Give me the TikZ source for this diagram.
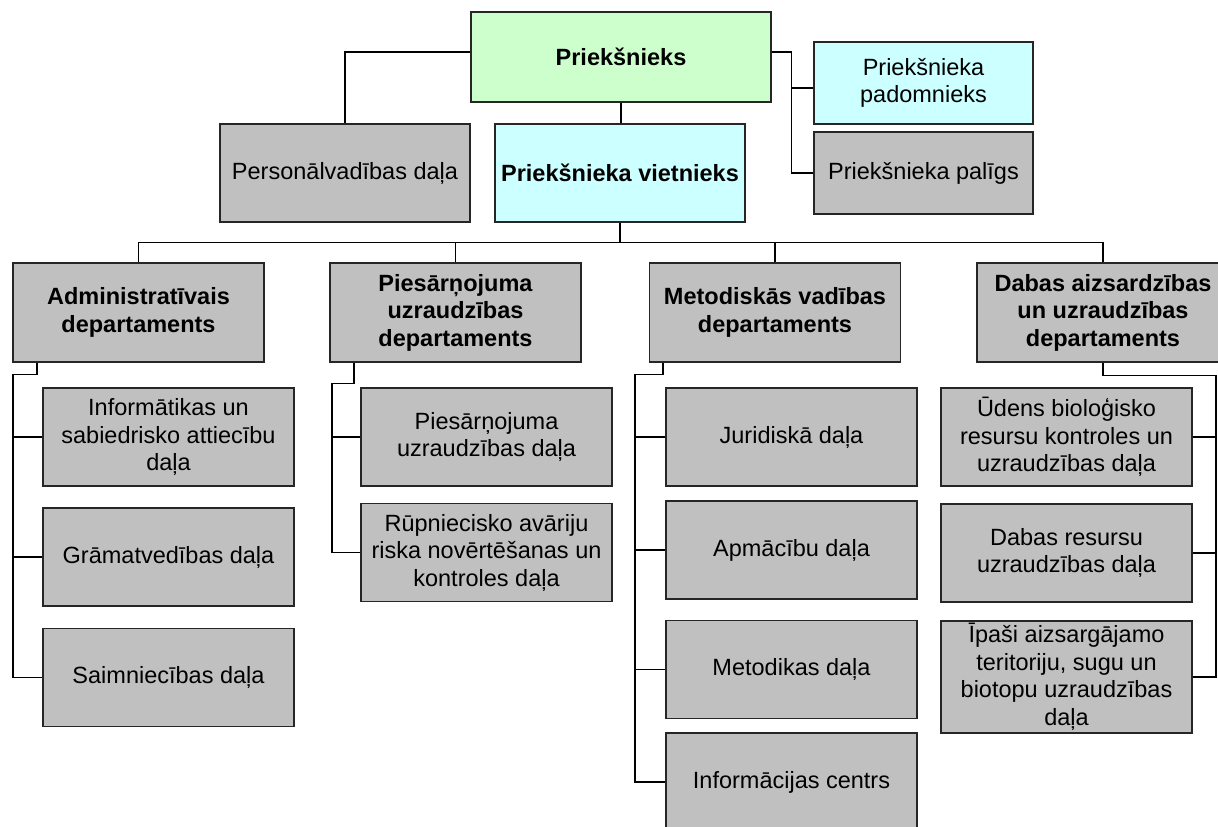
\documentclass[tikz,border=0pt]{standalone}
\usepackage{fontspec}
\setmainfont{Liberation Sans}
\definecolor{boxgray}{HTML}{C0C0C0}
\definecolor{boxgreen}{HTML}{CCFFCC}
\definecolor{boxcyan}{HTML}{CCFFFF}
\tikzset{
  unit/.style={draw=black!85, line width=1.3pt, fill=boxgray, minimum width=251pt,
    minimum height=98pt, align=center, inner sep=2pt,
    font=\fontsize{23.5}{27.5}\selectfont},
  boldunit/.style={unit, font=\fontsize{23.5}{27.5}\selectfont\bfseries},
  conn/.style={draw=black, line width=1.3pt}
}
\begin{document}
\begin{tikzpicture}[x=1pt,y=-1pt]
\useasboundingbox (0,0) rectangle (1218,827);
% top level
\node[boldunit, fill=boxgreen, minimum width=300pt, minimum height=90pt] (boss) at (621,57) {Priekšnieks};
\node[unit, minimum width=250pt] (pers) at (345,173) {Personālvadības daļa};
\node[boldunit, fill=boxcyan, minimum width=250pt] (viet) at (620,173) {Priekšnieka vietnieks};
\node[unit, fill=boxcyan, minimum width=219pt, minimum height=82pt] (pad) at (923.5,83) {Priekšnieka\\padomnieks};
\node[unit, minimum width=219pt, minimum height=82pt] (pal) at (923.5,173) {Priekšnieka palīgs};
% departments
\node[boldunit, minimum height=99pt] (admin) at (138.5,312.5) {Administratīvais\\departaments};
\node[boldunit, minimum height=99pt] (piesarn) at (455.5,312.5) {Piesārņojuma\\uzraudzības\\departaments};
\node[boldunit, minimum height=99pt] (metod) at (775,312.5) {Metodiskās vadības\\departaments};
\node[boldunit, minimum height=99pt, minimum width=252pt] (dabas) at (1103,312.5) {Dabas aizsardzības\\un uzraudzības\\departaments};
% admin children
\node[unit] (inf) at (168.5,437) {Informātikas un\\sabiedrisko attiecību\\daļa};
\node[unit] (gram) at (168.5,557) {Grāmatvedības daļa};
\node[unit] (saim) at (168.5,677.5) {Saimniecības daļa};
% piesarnojuma children
\node[unit] (pud) at (486.5,437) {Piesārņojuma\\uzraudzības daļa};
\node[unit] (rup) at (486.5,552.5) {Rūpniecisko avāriju\\riska novērtēšanas un\\kontroles daļa};
% metod children
\node[unit] (jur) at (791.5,437) {Juridiskā daļa};
\node[unit] (apm) at (791.5,550) {Apmācību daļa};
\node[unit] (metk) at (791.5,669.5) {Metodikas daļa};
\node[unit] (infc) at (791.5,782) {Informācijas centrs};
% dabas children
\node[unit] (ud) at (1066.5,437) {Ūdens bioloģisko\\resursu kontroles un\\uzraudzības daļa};
\node[unit] (dr) at (1066.5,553) {Dabas resursu\\uzraudzības daļa};
\node[unit, minimum height=112pt] (ipasi) at (1066.5,677) {Īpaši aizsargājamo\\teritoriju, sugu un\\biotopu uzraudzības\\daļa};
% connectors top
\draw[conn] ([yshift=5pt]boss.west) -| (pers.north);
\draw[conn] (boss.south) -- (boss.south |- viet.north);
\draw[conn] ([yshift=5pt]boss.east) -- ++(20,0) coordinate (rb) |- (pal.west);
\coordinate (padc) at ([yshift=-5pt]pad.west);
\draw[conn] (rb |- padc) -- (padc);
% bus
\draw[conn] (viet.south) -- ++(0,20) coordinate (bus);
\draw[conn] (admin.north) |- (bus) -| (dabas.north);
\draw[conn] (piesarn.north) -- (piesarn.north |- bus);
\draw[conn] (metod.north) -- (metod.north |- bus);
% admin
\draw[conn] ([xshift=-101.5pt]admin.south) -- ++(0,12) -- ++(-24,0) coordinate (av) |- (saim.west);
\draw[conn] (av |- inf.west) -- (inf.west);
\draw[conn] (av |- gram.west) -- (gram.west);
% piesarn
\draw[conn] ([xshift=-101.5pt]piesarn.south) -- ++(0,21) -- ++(-22,0) coordinate (pv) |- (rup.west);
\draw[conn] (pv |- pud.west) -- (pud.west);
% metod
\draw[conn] ([xshift=-112pt]metod.south) -- ++(0,12) -- ++(-28,0) coordinate (mv) |- (infc.west);
\draw[conn] (mv |- jur.west) -- (jur.west);
\draw[conn] (mv |- apm.west) -- (apm.west);
\draw[conn] (mv |- metk.west) -- (metk.west);
% dabas
\draw[conn] (dabas.south) -- ++(0,13) -- ++(113,0) coordinate (dv) |- (ipasi.east);
\draw[conn] (dv |- ud.east) -- (ud.east);
\draw[conn] (dv |- dr.east) -- (dr.east);
\end{tikzpicture}
\end{document}
